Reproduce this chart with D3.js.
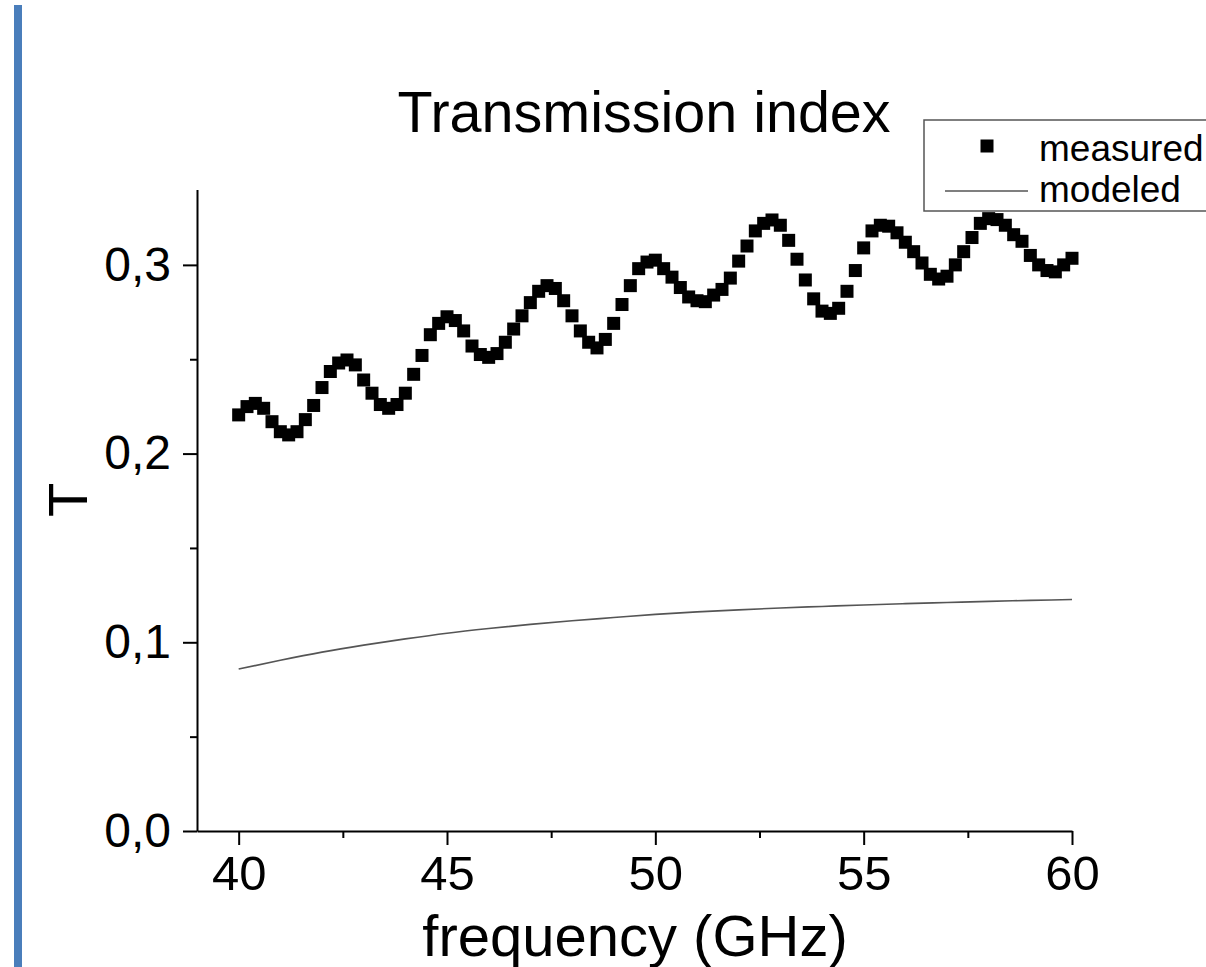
<!DOCTYPE html>
<html>
<head>
<meta charset="utf-8">
<script src="https://cdn.jsdelivr.net/npm/d3@7"></script>
<style>
  body { margin: 0; background: #fff; }
  text { font-family: "Liberation Sans", Arial, sans-serif; fill: #000; }
</style>
</head>
<body>
<div id="chart"></div>
<script>
// measured points, 0.2 GHz steps
const measFreq = [
  40.0, 40.2, 40.4, 40.6, 40.8, 41.0, 41.2, 41.4, 41.6, 41.8,
  42.0, 42.2, 42.4, 42.6, 42.8, 43.0, 43.2, 43.4, 43.6, 43.8,
  44.0, 44.2, 44.4, 44.6, 44.8, 45.0, 45.2, 45.4, 45.6, 45.8,
  46.0, 46.2, 46.4, 46.6, 46.8, 47.0, 47.2, 47.4, 47.6, 47.8,
  48.0, 48.2, 48.4, 48.6, 48.8, 49.0, 49.2, 49.4, 49.6, 49.8,
  50.0, 50.2, 50.4, 50.6, 50.8, 51.0, 51.2, 51.4, 51.6, 51.8,
  52.0, 52.2, 52.4, 52.6, 52.8, 53.0, 53.2, 53.4, 53.6, 53.8,
  54.0, 54.2, 54.4, 54.6, 54.8, 55.0, 55.2, 55.4, 55.6, 55.8,
  56.0, 56.2, 56.4, 56.6, 56.8, 57.0, 57.2, 57.4, 57.6, 57.8,
  58.0, 58.2, 58.4, 58.6, 58.8, 59.0, 59.2, 59.4, 59.6, 59.8,
  60.0
];
const measT = [
  0.2205, 0.2249, 0.2266, 0.2240, 0.2169, 0.2116, 0.2099, 0.2116, 0.2180, 0.2255,
  0.2350, 0.2435, 0.2480, 0.2496, 0.2470, 0.2390, 0.2320, 0.2260, 0.2240, 0.2260,
  0.2320, 0.2420, 0.2520, 0.2630, 0.2690, 0.2725, 0.2705, 0.2650, 0.2570, 0.2525,
  0.2510, 0.2530, 0.2590, 0.2660, 0.2730, 0.2800, 0.2860, 0.2890, 0.2875, 0.2810,
  0.2730, 0.2650, 0.2590, 0.2560, 0.2605, 0.2690, 0.2790, 0.2890, 0.2980, 0.3015,
  0.3025, 0.2980, 0.2935, 0.2880, 0.2830, 0.2810, 0.2805, 0.2840, 0.2870, 0.2930,
  0.3020, 0.3100, 0.3180, 0.3220, 0.3238, 0.3210, 0.3130, 0.3030, 0.2920, 0.2820,
  0.2755, 0.2743, 0.2770, 0.2860, 0.2970, 0.3090, 0.3180, 0.3210, 0.3205, 0.3170,
  0.3120, 0.3070, 0.3010, 0.2950, 0.2925, 0.2940, 0.3000, 0.3070, 0.3145, 0.3220,
  0.3245, 0.3240, 0.3210, 0.3160, 0.3125, 0.3050, 0.3000, 0.2970, 0.2963, 0.3000,
  0.3035
];

// modeled curve
const modFreq = [40, 41, 42, 43, 44, 45, 46, 47, 48, 49, 50, 51, 52, 53, 54, 55, 56, 57, 58, 59, 60];
const modT = [0.0858, 0.0905, 0.0948, 0.0985, 0.1018, 0.1048, 0.1073, 0.1095, 0.1114, 0.1131,
  0.1148, 0.1161, 0.1172, 0.1182, 0.1190, 0.1198, 0.1205, 0.1211, 0.1217, 0.1222, 0.1227];

const xTicks = [40, 45, 50, 55, 60];
const xMinor = [42.5, 47.5, 52.5, 57.5];
const yTicks = [0, 0.1, 0.2, 0.3];
const yMinor = [0.05, 0.15, 0.25];

const svgWidth = 1206;
const svgHeight = 967;

const svg = d3.select("#chart")
  .append("svg")
  .attr("width", svgWidth)
  .attr("height", svgHeight);

// blue slide bar on the left
svg.append("rect")
  .attr("x", 14)
  .attr("y", 5)
  .attr("width", 8)
  .attr("height", svgHeight - 5)
  .attr("fill", "#4a7ebb");

const xScale = d3.scaleLinear().domain([39, 60]).range([197, 1072]);
const yScale = d3.scaleLinear().domain([0, 0.34]).range([831, 189.4]);

const fmt = d => d3.format(".1f")(d).replace(".", ",");

// minor ticks first so the major axis sits on top
svg.append("g")
  .attr("transform", "translate(0, 831)")
  .call(d3.axisBottom(xScale).tickValues(xMinor).tickSize(7).tickFormat(""))
  .call(g => g.select(".domain").remove())
  .call(g => g.selectAll("line").attr("stroke-width", 2));

svg.append("g")
  .attr("transform", "translate(197, 0)")
  .call(d3.axisLeft(yScale).tickValues(yMinor).tickSize(7).tickFormat(""))
  .call(g => g.select(".domain").remove())
  .call(g => g.selectAll("line").attr("stroke-width", 2));

// x axis
const xAxis = svg.append("g")
  .attr("transform", "translate(0, 831)")
  .call(d3.axisBottom(xScale).tickValues(xTicks).tickSize(14).tickSizeOuter(0).tickPadding(10));
xAxis.select(".domain").attr("stroke-width", 2);
xAxis.selectAll("line").attr("stroke-width", 2);
xAxis.selectAll("text").attr("font-size", 49).attr("font-family", "Liberation Sans, Arial, sans-serif");

// y axis
const yAxis = svg.append("g")
  .attr("transform", "translate(197, 0)")
  .call(d3.axisLeft(yScale).tickValues(yTicks).tickSize(14).tickSizeOuter(0).tickPadding(12).tickFormat(fmt));
yAxis.select(".domain").attr("stroke-width", 2);
yAxis.selectAll("line").attr("stroke-width", 2);
yAxis.selectAll("text").attr("font-size", 48).attr("font-family", "Liberation Sans, Arial, sans-serif");

// modeled line
const modData = modFreq.map((f, i) => ({ f: f, t: modT[i] }));
svg.append("path")
  .datum(modData)
  .attr("fill", "none")
  .attr("stroke", "#555")
  .attr("stroke-width", 1.6)
  .attr("d", d3.line().x(d => xScale(d.f)).y(d => yScale(d.t)).curve(d3.curveMonotoneX));

// measured squares
const sq = 13;
const measData = measFreq.map((f, i) => ({ f: f, t: measT[i] }));
svg.append("g")
  .selectAll("rect")
  .data(measData)
  .enter()
  .append("rect")
  .attr("x", d => xScale(d.f) - sq / 2)
  .attr("y", d => yScale(d.t) - sq / 2)
  .attr("width", sq)
  .attr("height", sq)
  .attr("fill", "#000");

// title and axis labels
svg.append("text")
  .attr("x", 644)
  .attr("y", 132)
  .attr("text-anchor", "middle")
  .attr("font-size", 57.5)
  .text("Transmission index");

svg.append("text")
  .attr("x", 635)
  .attr("y", 956)
  .attr("text-anchor", "middle")
  .attr("font-size", 58)
  .text("frequency (GHz)");

svg.append("text")
  .attr("transform", "translate(87, 500) rotate(-90)")
  .attr("text-anchor", "middle")
  .attr("font-size", 56)
  .text("T");

// legend
const legend = svg.append("g");
legend.append("rect")
  .attr("x", 924)
  .attr("y", 120)
  .attr("width", 300)
  .attr("height", 91)
  .attr("fill", "#fff")
  .attr("stroke", "#555")
  .attr("stroke-width", 1.5);
legend.append("rect")
  .attr("x", 987 - sq / 2)
  .attr("y", 146 - sq / 2)
  .attr("width", sq)
  .attr("height", sq)
  .attr("fill", "#000");
legend.append("line")
  .attr("x1", 945)
  .attr("x2", 1028)
  .attr("y1", 191)
  .attr("y2", 191)
  .attr("stroke", "#555")
  .attr("stroke-width", 1.6);
legend.append("text")
  .attr("x", 1039)
  .attr("y", 161)
  .attr("font-size", 37)
  .text("measured");
legend.append("text")
  .attr("x", 1039)
  .attr("y", 202)
  .attr("font-size", 37)
  .text("modeled");
</script>
</body>
</html>
